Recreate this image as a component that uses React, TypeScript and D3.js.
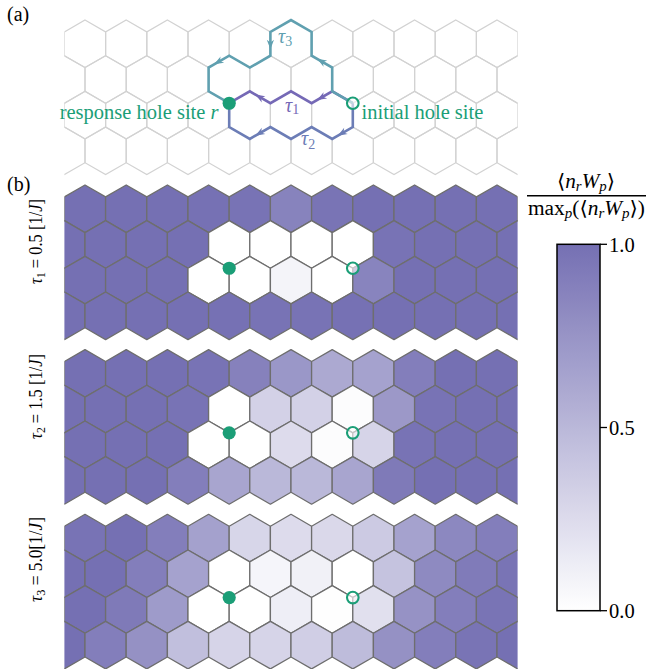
import React from "react";
import * as d3 from "d3";

const W = 648;
const H = 669;

// ---- data: normalized <n_r W_p> per plaquette, rows top→bottom
// even rows: 11 full cells, odd rows: 12 cells (edge cells clipped)
const tau1Rows: number[][] = [
  [1.0, 1.0, 1.0, 0.99, 0.98, 0.87, 0.97, 1.0, 1.0, 1.0, 1.0],
  [1.0, 1.0, 1.0, 1.0, 0.0, 0.0, 0.0, 0.0, 0.98, 1.0, 1.0, 1.0],
  [1.0, 1.0, 1.0, 0.0, 0.0, 0.08, 0.0, 0.86, 1.0, 1.0, 1.0],
  [1.0, 1.0, 1.0, 1.0, 0.99, 0.98, 0.98, 0.99, 1.0, 1.0, 1.0, 1.0],
];
const tau2Rows: number[][] = [
  [1.0, 1.0, 1.0, 0.98, 0.88, 0.73, 0.6, 0.65, 0.9, 1.0, 1.0],
  [1.0, 1.0, 1.0, 0.98, 0.0, 0.32, 0.32, 0.02, 0.72, 0.98, 1.0, 1.0],
  [1.0, 1.0, 1.0, 0.0, 0.0, 0.25, 0.02, 0.3, 0.98, 1.0, 1.0],
  [1.0, 1.0, 1.0, 0.9, 0.63, 0.5, 0.5, 0.63, 0.93, 1.0, 1.0, 1.0],
];
const tau3Rows: number[][] = [
  [0.98, 1.0, 0.9, 0.66, 0.29, 0.25, 0.27, 0.37, 0.65, 0.83, 0.9],
  [1.0, 1.0, 0.9, 0.65, 0.0, 0.07, 0.1, 0.0, 0.42, 0.82, 0.92, 0.97],
  [1.0, 0.93, 0.7, 0.0, 0.0, 0.12, 0.01, 0.22, 0.76, 0.9, 0.97],
  [1.0, 0.9, 0.77, 0.45, 0.3, 0.3, 0.34, 0.47, 0.77, 0.9, 0.97, 1.0],
];
const panelRows = [tau1Rows, tau2Rows, tau3Rows];
const panelSubs = ["1", "2", "3"];
const panelTauValues = ["0.5", "1.5", "5.0"];
const panelUnitGap = [" ", " ", ""];

// lattice vertices (half-width units, half-side units)
const responseSite: [number, number] = [8, 7];
const initialSite: [number, number] = [14, 7];
const tau1Path: [number, number][] = [[14, 7], [13, 6], [12, 7], [11, 6], [10, 7], [9, 6], [8, 7]];
const tau2Path: [number, number][] = [[14, 7], [14, 9], [13, 10], [12, 9], [11, 10], [10, 9], [9, 10], [8, 9], [8, 7]];
const tau3Path: [number, number][] = [[14, 7], [13, 6], [13, 4], [12, 3], [12, 1], [11, 0], [10, 1], [10, 3], [9, 4], [8, 3], [7, 4], [7, 6], [8, 7]];
const tau1Arrows = [1, 4];
const tau2Arrows = [1, 5];
const tau3Arrows = [2, 6, 9];

const colorbarTicks = [0, 0.5, 1];

const green = "#1b9e77";
const cTau1 = "#7569b6";
const cTau2 = "#6c7db6";
const cTau3 = "#60a0b0";
const serif = "'Liberation Serif', 'Times New Roman', Times, 'DejaVu Serif', serif";

const color = d3.scaleLinear<string>().domain([0, 1]).range(["#ffffff", "#7570b3"]).interpolate(d3.interpolateRgb);

const xLat = d3.scaleLinear().domain([0, 22]).range([64.4, 517.6]);
const yLatFor = (top: number) => d3.scaleLinear().domain([0, 13]).range([top, top + 154.6]);

const panelTops = [185, 349.6, 514.3];
const panelATop = 20;

function hexPoints(cx: number, cy: number, yl: d3.ScaleLinear<number, number>) {
  const v = [[0, -2], [1, -1], [1, 1], [0, 2], [-1, 1], [-1, -1]];
  return v.map(([dx, dy]) => `${xLat(cx + dx)},${yl(cy + dy)}`).join(" ");
}

function cells(rows: number[][]) {
  const out: { cx: number; cy: number; v: number }[] = [];
  rows.forEach((row, r) => {
    row.forEach((v, k) => {
      const cx = r % 2 === 0 ? 2 * k + 1 : 2 * k;
      out.push({ cx, cy: 2 + 3 * r, v });
    });
  });
  return out;
}

function arrowPoly(p0: [number, number], p1: [number, number]) {
  const dx = p1[0] - p0[0], dy = p1[1] - p0[1];
  const L = Math.hypot(dx, dy);
  const ux = dx / L, uy = dy / L, nx = -uy, ny = ux;
  const mx = (p0[0] + p1[0]) / 2 + ux * 1, my = (p0[1] + p1[1]) / 2 + uy * 1;
  const pts = [
    [mx + ux * 4.5, my + uy * 4.5],
    [mx - ux * 5 + nx * 3.6, my - uy * 5 + ny * 3.6],
    [mx - ux * 2.2, my - uy * 2.2],
    [mx - ux * 5 - nx * 3.6, my - uy * 5 - ny * 3.6],
  ];
  return pts.map((p) => p.join(",")).join(" ");
}

function LatticePath({ path, arrows, col, yl }: { path: [number, number][]; arrows: number[]; col: string; yl: d3.ScaleLinear<number, number> }) {
  const pts = path.map(([x, y]) => [xLat(x), yl(y)] as [number, number]);
  const line = d3.line()(pts) || "";
  return (
    <g>
      <path d={line} fill="none" stroke={col} strokeWidth={2.6} strokeLinejoin="miter" />
      {arrows.map((i) => (
        <polygon key={i} points={arrowPoly(pts[i], pts[i + 1])} fill={col} />
      ))}
    </g>
  );
}

function Markers({ yl }: { yl: d3.ScaleLinear<number, number> }) {
  return (
    <g>
      <circle cx={xLat(responseSite[0])} cy={yl(responseSite[1])} r={6.6} fill={green} />
      <circle cx={xLat(initialSite[0])} cy={yl(initialSite[1])} r={5.8} fill="rgba(255,255,255,0.6)" stroke={green} strokeWidth={2.1} />
    </g>
  );
}

export default function App() {
  const yA = yLatFor(panelATop);
  const latticeCells = cells(tau1Rows);
  const nStops = 21;
  const stops = d3.range(nStops).map((i) => i / (nStops - 1));
  const cbScale = d3.scaleLinear().domain([0, 1]).range([610.7, 244.3]);
  const cbX0 = 557, cbX1 = 600;

  return (
    <svg width={W} height={H} style={{ position: "absolute", left: 0, top: 0, background: "#fff", fontFamily: serif }}>
      <style>{`text, tspan { font-family: ${serif}; }`}</style>
      <defs>
        <clipPath id="clipA">
          <rect x={xLat(0)} y={panelATop - 3} width={xLat(22) - xLat(0)} height={160} />
        </clipPath>
        {panelTops.map((t, i) => (
          <clipPath id={`clipB${i}`} key={i}>
            <rect x={xLat(0)} y={t - 3} width={xLat(22) - xLat(0)} height={161} />
          </clipPath>
        ))}
        <linearGradient id="cbGrad" x1="0" y1="1" x2="0" y2="0">
          {stops.map((s) => (
            <stop key={s} offset={s} stopColor={color(s)} />
          ))}
        </linearGradient>
      </defs>

      {/* panel (a) */}
      <text x={7} y={21} fontSize={20}>(a)</text>
      <g clipPath="url(#clipA)">
        {latticeCells.map((c, i) => (
          <polygon key={i} points={hexPoints(c.cx, c.cy, yA)} fill="none" stroke="#d2d2d2" strokeWidth={1.2} />
        ))}
      </g>
      <LatticePath path={tau2Path} arrows={tau2Arrows} col={cTau2} yl={yA} />
      <LatticePath path={tau1Path} arrows={tau1Arrows} col={cTau1} yl={yA} />
      <LatticePath path={tau3Path} arrows={tau3Arrows} col={cTau3} yl={yA} />
      <text x={285} y={111.7} fontSize={20} fill={cTau1}>
        <tspan fontStyle="italic">τ</tspan>
        <tspan fontSize={14} dy={2}>1</tspan>
      </text>
      <text x={301} y={144.5} fontSize={20} fill={cTau2}>
        <tspan fontStyle="italic">τ</tspan>
        <tspan fontSize={14} dy={4}>2</tspan>
      </text>
      <text x={278} y={43} fontSize={20} fill={cTau3}>
        <tspan fontStyle="italic">τ</tspan>
        <tspan fontSize={14} dy={3}>3</tspan>
      </text>
      <Markers yl={yA} />
      <text x={218.5} y={118.5} fontSize={20.5} fill={green} textAnchor="end">
        response hole site <tspan fontStyle="italic">r</tspan>
      </text>
      <text x={361.5} y={118.5} fontSize={20.5} fill={green}>initial hole site</text>

      {/* panel (b) */}
      <text x={7} y={191} fontSize={20}>(b)</text>
      {panelTops.map((top, pi) => {
        const yl = yLatFor(top);
        const cs = cells(panelRows[pi]);
        const labelCenters = [241.5, 396.5, 559.5];
        return (
          <g key={pi}>
            <g clipPath={`url(#clipB${pi})`}>
              {cs.map((c, i) => (
                <polygon key={i} points={hexPoints(c.cx, c.cy, yl)} fill={color(c.v)} stroke="#6e6e6e" strokeWidth={1.3} strokeLinejoin="round" />
              ))}
            </g>
            <Markers yl={yl} />
            <text
              transform={`translate(42,${labelCenters[pi]}) rotate(-90)`}
              textAnchor="middle"
              fontSize={19}
              textLength={85}
              lengthAdjust="spacingAndGlyphs"
            >
              <tspan fontStyle="italic">τ</tspan>
              <tspan fontSize={13.5} dy={3}>{panelSubs[pi]}</tspan>
              <tspan dy={-3}>{` = ${panelTauValues[pi]}${panelUnitGap[pi]}[1/`}</tspan>
              <tspan fontStyle="italic">J</tspan>
              <tspan>]</tspan>
            </text>
          </g>
        );
      })}

      {/* colorbar title */}
      <text x={586} y={188.3} fontSize={20} textAnchor="middle" textLength={58} lengthAdjust="spacingAndGlyphs">
        ⟨<tspan fontStyle="italic">n</tspan>
        <tspan fontStyle="italic" fontSize={14} dy={3}>r</tspan>
        <tspan fontStyle="italic" dy={-3}>W</tspan>
        <tspan fontStyle="italic" fontSize={14} dy={3}>p</tspan>
        <tspan dy={-3}>⟩</tspan>
      </text>
      <line x1={527} x2={646} y1={195.8} y2={195.8} stroke="#000" strokeWidth={1.6} />
      <text x={586.5} y={214.5} fontSize={20} textAnchor="middle" textLength={117} lengthAdjust="spacingAndGlyphs">
        max<tspan fontStyle="italic" fontSize={14} dy={3}>p</tspan>
        <tspan dy={-3}>(⟨</tspan>
        <tspan fontStyle="italic">n</tspan>
        <tspan fontStyle="italic" fontSize={14} dy={3}>r</tspan>
        <tspan fontStyle="italic" dy={-3}>W</tspan>
        <tspan fontStyle="italic" fontSize={14} dy={3}>p</tspan>
        <tspan dy={-3}>⟩)</tspan>
      </text>

      {/* colorbar */}
      <rect x={cbX0} y={cbScale(1)} width={cbX1 - cbX0} height={cbScale(0) - cbScale(1)} fill="url(#cbGrad)" stroke="#000" strokeWidth={1.5} />
      {colorbarTicks.map((t) => (
        <g key={t}>
          <line x1={cbX1} x2={cbX1 + 7} y1={cbScale(t)} y2={cbScale(t)} stroke="#000" strokeWidth={1.3} />
          <text x={cbX1 + 9} y={cbScale(t)} dy="0.36em" fontSize={20.5}>{t.toFixed(1)}</text>
        </g>
      ))}
    </svg>
  );
}
